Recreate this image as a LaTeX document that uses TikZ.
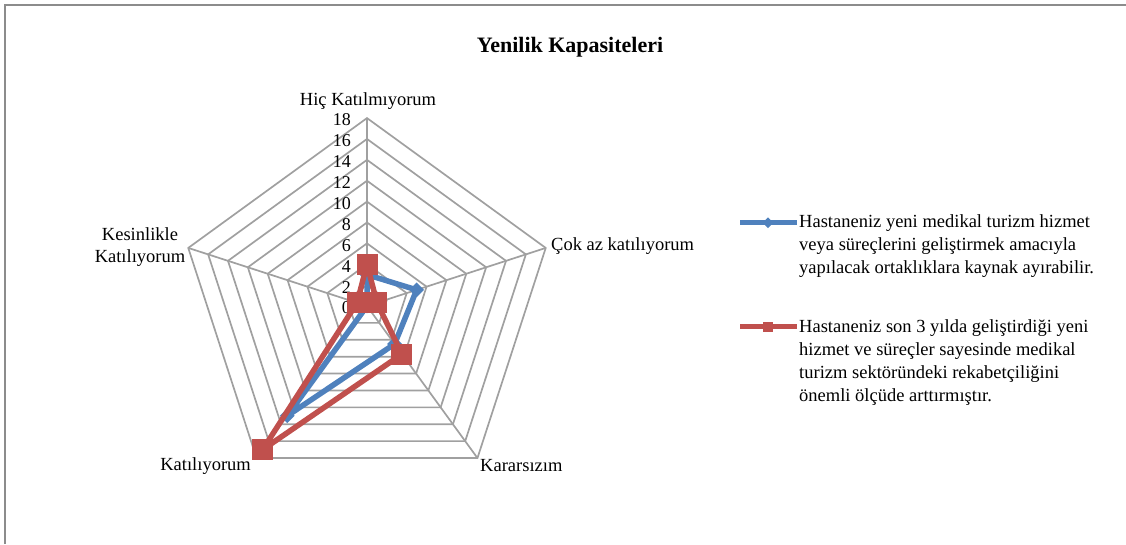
\documentclass[tikz,border=0pt]{standalone}
\usepackage{fontspec}
\setmainfont{Liberation Serif}
\usetikzlibrary{shapes.geometric}
\definecolor{serA}{HTML}{4F81BD}
\definecolor{serB}{HTML}{C0504D}
\definecolor{gridc}{HTML}{A0A0A0}
\definecolor{framec}{HTML}{8C8C8C}
\newcommand\rp[2]{({\cx+(#2)*\u*cos(#1)},{\cy-(#2)*\u*sin(#1)})}
\begin{document}
\begin{tikzpicture}[x=1pt,y=-1pt,
  gridline/.style={draw=gridc,line width=1.7pt},
  framel/.style={draw=framec,line width=2pt},
  lab/.style={inner sep=0pt,font=\fontsize{18.5}{22}\selectfont},
  ticklab/.style={inner sep=0pt,anchor=east,font=\fontsize{18}{20}\selectfont},
  lineA/.style={draw=serA,line width=5.5pt,line join=round},
  lineB/.style={draw=serB,line width=5.5pt,line join=round},
  markA/.style={diamond,fill=serA,inner sep=0pt,minimum size=15pt},
  markB/.style={rectangle,fill=serB,inner sep=0pt,minimum size=21pt},
  legA/.style={diamond,fill=serA,inner sep=0pt,minimum size=11pt},
  legB/.style={rectangle,fill=serB,inner sep=0pt,minimum size=10pt},
  legtext/.style={inner sep=0pt,anchor=north west,align=left,font=\fontsize{18.5}{23.3}\selectfont}]
\useasboundingbox (0,0) rectangle (1126,544);
\draw[framel] (5,544) -- (5,5) -- (1126,5);
\def\cx{367}\def\cy{306}\def\u{10.44}
\coordinate (O) at (\cx,\cy);
% title
\node[inner sep=0pt,font=\fontsize{22}{24}\selectfont\bfseries] (title) at (570,47) {Yenilik Kapasiteleri};
% grid
\foreach \k in {2,4,...,18}{
  \draw[gridline] \rp{90}{\k} -- \rp{18}{\k} -- \rp{-54}{\k} -- \rp{-126}{\k} -- \rp{162}{\k} -- cycle;
}
\path \rp{90}{18} coordinate (v1) \rp{18}{18} coordinate (v2) \rp{-54}{18} coordinate (v3)
      \rp{-126}{18} coordinate (v4) \rp{162}{18} coordinate (v5);
\foreach \v in {v1,v2,v3,v4,v5} \draw[gridline] (O) -- (\v);
% tick labels
\foreach \k in {0,2,...,18}{
  \node[ticklab] (t\k) at (351,{\cy-\k*\u+2}) {\k};
}
% axis labels
\node[lab] (l1) at (368,101) {Hiç Katılmıyorum};
\node[lab,anchor=west] (l2) at (551,246) {Çok az katılıyorum};
\node[lab,anchor=west] (l3) at (480,466) {Kararsızım};
\node[lab,anchor=east] (l4) at (251,466) {Katılıyorum};
\node[lab,align=center] (l5) at (140,247) {Kesinlikle\\Katılıyorum};
% data series A
\path \rp{90}{3} coordinate (a1) \rp{18}{5} coordinate (a2) \rp{-54}{4.5} coordinate (a3)
      \rp{-126}{13} coordinate (a4) \rp{162}{0} coordinate (a5);
\draw[lineA] (a1) -- (a2) -- (a3) -- (a4) -- (a5) -- cycle;
\foreach \p in {a1,a2,a3,a4,a5} \node[markA] at (\p) {};
% data series B
\path \rp{90}{4} coordinate (b1) \rp{18}{1} coordinate (b2) \rp{-54}{5.7} coordinate (b3)
      \rp{-126}{17} coordinate (b4) \rp{162}{1} coordinate (b5);
\draw[lineB] (b1) -- (b2) -- (b3) -- (b4) -- (b5) -- cycle;
\foreach \p in {b1,b2,b3,b4,b5} \node[markB] at (\p) {};
% legend
\coordinate (la0) at (740,222.7);
\coordinate (la1) at (797,222.7);
\draw[lineA] (la0) -- (la1);
\node[legA] (lam) at (768,222.7) {};
\node[legtext] (lat) at (799,214) {Hastaneniz yeni medikal turizm hizmet\\veya süreçlerini geliştirmek amacıyla\\yapılacak ortaklıklara kaynak ayırabilir.};
\coordinate (lb0) at (740,326.7);
\coordinate (lb1) at (797,326.7);
\draw[lineB] (lb0) -- (lb1);
\node[legB] (lbm) at (768,326.7) {};
\node[legtext] (lbt) at (799,319) {Hastaneniz son 3 yılda geliştirdiği yeni\\hizmet ve süreçler sayesinde medikal\\turizm sektöründeki rekabetçiliğini\\önemli ölçüde arttırmıştır.};
\end{tikzpicture}
\end{document}
